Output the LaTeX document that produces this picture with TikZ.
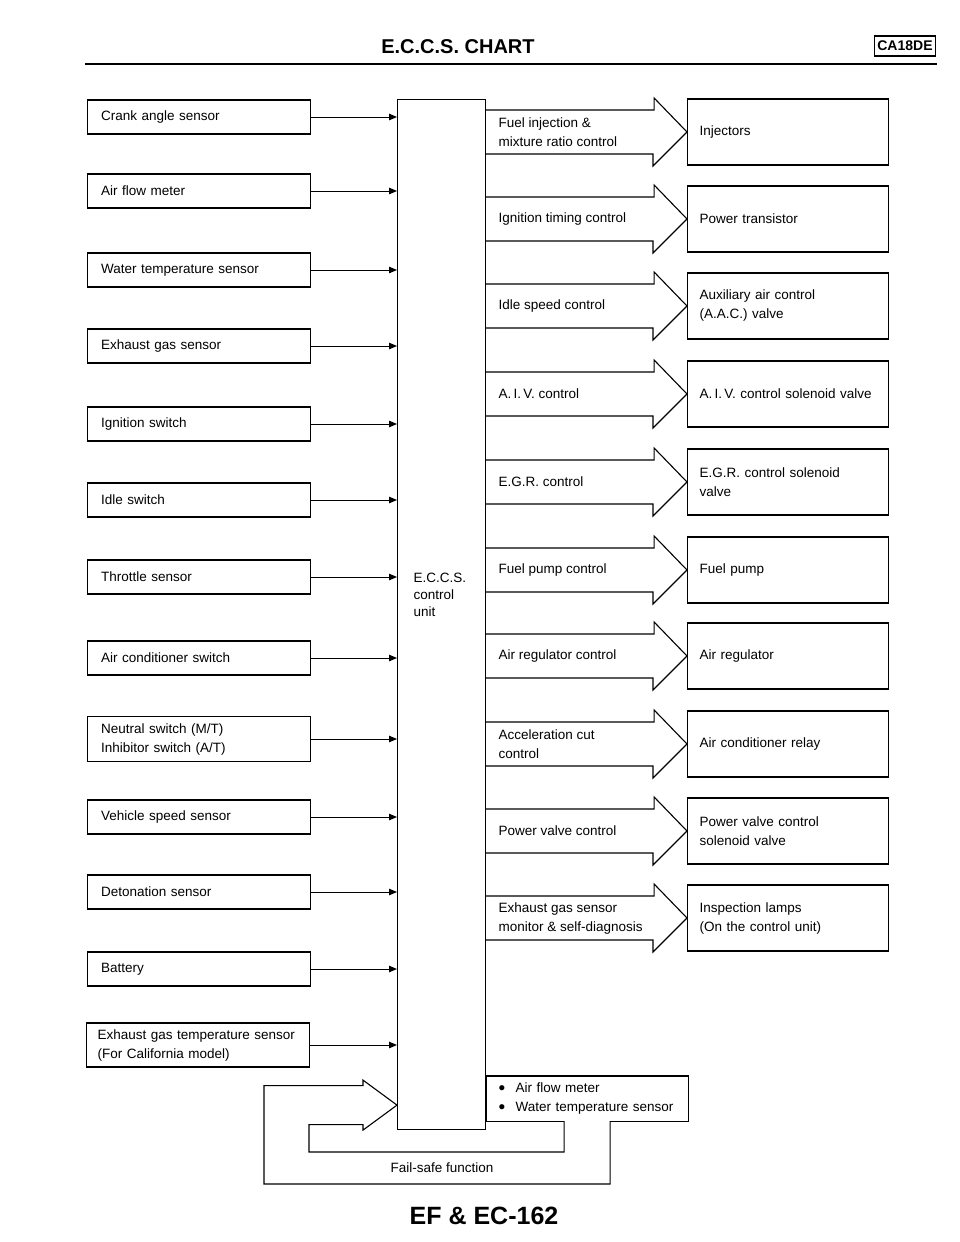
\documentclass[tikz,border=0pt]{standalone}
\usepackage{fontspec}
\setmainfont{Liberation Sans}
\usepackage{tikz}
\usetikzlibrary{arrows.meta, positioning, calc}

\begin{document}
\begin{tikzpicture}[
    x=1pt, y=-1pt,
    line width=1.1pt,
    font=\fontsize{13.5}{19}\selectfont,
    sensor/.style={rectangle, draw, minimum width=223pt, minimum height=34pt,
                   text width=196pt, inner xsep=13.5pt, align=left, anchor=west},
    device/.style={rectangle, draw, minimum width=201pt, minimum height=66pt,
                   text width=177pt, inner xsep=12pt, align=left, anchor=west},
    unit/.style={rectangle, draw, minimum width=88pt, minimum height=1030pt,
                 anchor=north west},
    ctrl/.style={anchor=west, align=left, inner sep=0pt},
    inarr/.style={-{Triangle[length=8pt, width=6.5pt]}, line width=1pt},
    fat/.style={line width=1.1pt, line join=miter}
  ]
  \useasboundingbox (0,0) rectangle (960,1242);

  % header
  \node[font=\fontsize{20}{24}\selectfont\bfseries] (title) at (458,47) {E.C.C.S. CHART};
  \node[draw, line width=1.4pt, inner xsep=3pt, inner ysep=5pt,
        font=\fontsize{14}{16}\selectfont\bfseries] (engine) at (905,46) {CA18DE};
  \draw[line width=2.6pt] (85,64) -- (937,64);

  % control unit
  \node[unit] (ecu) at (397,99) {};
  \node[ctrl, font=\fontsize{13.5}{17}\selectfont] (ecu-lbl) at (413,595) {E.C.C.S.\\control\\unit};

  % inputs
  \node[sensor] (crank) at (87,117) {Crank angle sensor};
  \node[sensor] (afm) at (87,191) {Air flow meter};
  \node[sensor] (water) at (87,270) {Water temperature sensor};
  \node[sensor] (exh) at (87,346) {Exhaust gas sensor};
  \node[sensor] (ign) at (87,424) {Ignition switch};
  \node[sensor] (idle) at (87,500) {Idle switch};
  \node[sensor] (thr) at (87,577) {Throttle sensor};
  \node[sensor] (acsw) at (87,658) {Air conditioner switch};
  \node[sensor, minimum height=45pt] (neutral) at (87,739) {Neutral switch (M/T)\\Inhibitor switch (A/T)};
  \node[sensor] (vss) at (87,817) {Vehicle speed sensor};
  \node[sensor] (deton) at (87,892) {Detonation sensor};
  \node[sensor] (batt) at (87,969) {Battery};
  \node[sensor, minimum height=44pt, inner xsep=11pt, text width=201pt] (exhtemp) at (86,1045)
       {Exhaust~gas~temperature~sensor\\(For California model)};

  \draw[inarr] (crank.east) -- (crank.east -| ecu.west);
  \draw[inarr] (afm.east) -- (afm.east -| ecu.west);
  \draw[inarr] (water.east) -- (water.east -| ecu.west);
  \draw[inarr] (exh.east) -- (exh.east -| ecu.west);
  \draw[inarr] (ign.east) -- (ign.east -| ecu.west);
  \draw[inarr] (idle.east) -- (idle.east -| ecu.west);
  \draw[inarr] (thr.east) -- (thr.east -| ecu.west);
  \draw[inarr] (acsw.east) -- (acsw.east -| ecu.west);
  \draw[inarr] (neutral.east) -- (neutral.east -| ecu.west);
  \draw[inarr] (vss.east) -- (vss.east -| ecu.west);
  \draw[inarr] (deton.east) -- (deton.east -| ecu.west);
  \draw[inarr] (batt.east) -- (batt.east -| ecu.west);
  \draw[inarr] (exhtemp.east) -- (exhtemp.east -| ecu.west);

  % outputs
  \node[device] (inj) at (687,132) {Injectors};
  \node[device] (ptr) at (687,219) {Power transistor};
  \node[device] (aac) at (687,306) {Auxiliary air control\\(A.A.C.) valve};
  \node[device] (aiv) at (687,394) {A.\,I.\,V.~control~solenoid~valve};
  \node[device] (egr) at (687,482) {E.G.R. control solenoid\\valve};
  \node[device] (fpump) at (687,570) {Fuel pump};
  \node[device] (areg) at (687,656) {Air regulator};
  \node[device] (acrly) at (687,744) {Air conditioner relay};
  \node[device] (pvalve) at (687,831) {Power valve control\\solenoid valve};
  \node[device] (lamps) at (687,918) {Inspection lamps\\(On the control unit)};

  \draw[fat] (ecu.east |- inj.west) ++(0,-22) -- ++(168,0) -- ++(0,-12) -- (inj.west) -- ++(-34,34) -- ++(0,-12) -- ++(-168,0);
  \node[ctrl] (inj-c) at ($(ecu.east |- inj.west)+(12,0)$) {Fuel injection \&\\mixture ratio control};
  \draw[fat] (ecu.east |- ptr.west) ++(0,-22) -- ++(168,0) -- ++(0,-12) -- (ptr.west) -- ++(-34,34) -- ++(0,-12) -- ++(-168,0);
  \node[ctrl] (ptr-c) at ($(ecu.east |- ptr.west)+(12,0)$) {Ignition timing control};
  \draw[fat] (ecu.east |- aac.west) ++(0,-22) -- ++(168,0) -- ++(0,-12) -- (aac.west) -- ++(-34,34) -- ++(0,-12) -- ++(-168,0);
  \node[ctrl] (aac-c) at ($(ecu.east |- aac.west)+(12,0)$) {Idle speed control};
  \draw[fat] (ecu.east |- aiv.west) ++(0,-22) -- ++(168,0) -- ++(0,-12) -- (aiv.west) -- ++(-34,34) -- ++(0,-12) -- ++(-168,0);
  \node[ctrl] (aiv-c) at ($(ecu.east |- aiv.west)+(12,0)$) {A.\,I.\,V. control};
  \draw[fat] (ecu.east |- egr.west) ++(0,-22) -- ++(168,0) -- ++(0,-12) -- (egr.west) -- ++(-34,34) -- ++(0,-12) -- ++(-168,0);
  \node[ctrl] (egr-c) at ($(ecu.east |- egr.west)+(12,0)$) {E.G.R. control};
  \draw[fat] (ecu.east |- fpump.west) ++(0,-22) -- ++(168,0) -- ++(0,-12) -- (fpump.west) -- ++(-34,34) -- ++(0,-12) -- ++(-168,0);
  \node[ctrl] (fpump-c) at ($(ecu.east |- fpump.west)+(12,0)$) {Fuel pump control};
  \draw[fat] (ecu.east |- areg.west) ++(0,-22) -- ++(168,0) -- ++(0,-12) -- (areg.west) -- ++(-34,34) -- ++(0,-12) -- ++(-168,0);
  \node[ctrl] (areg-c) at ($(ecu.east |- areg.west)+(12,0)$) {Air regulator control};
  \draw[fat] (ecu.east |- acrly.west) ++(0,-22) -- ++(168,0) -- ++(0,-12) -- (acrly.west) -- ++(-34,34) -- ++(0,-12) -- ++(-168,0);
  \node[ctrl] (acrly-c) at ($(ecu.east |- acrly.west)+(12,0)$) {Acceleration cut\\control};
  \draw[fat] (ecu.east |- pvalve.west) ++(0,-22) -- ++(168,0) -- ++(0,-12) -- (pvalve.west) -- ++(-34,34) -- ++(0,-12) -- ++(-168,0);
  \node[ctrl] (pvalve-c) at ($(ecu.east |- pvalve.west)+(12,0)$) {Power valve control};
  \draw[fat] (ecu.east |- lamps.west) ++(0,-22) -- ++(168,0) -- ++(0,-12) -- (lamps.west) -- ++(-34,34) -- ++(0,-12) -- ++(-168,0);
  \node[ctrl] (lamps-c) at ($(ecu.east |- lamps.west)+(12,0)$) {Exhaust gas sensor\\monitor \& self-diagnosis};

  % fail-safe
  \node[rectangle, minimum width=201pt, minimum height=44pt, text width=177pt,
        inner xsep=12pt, align=left, anchor=north west] (info) at (ecu.east |- 0,1076)
       {\makebox[17pt][l]{\raisebox{-1.8pt}{\fontsize{19}{19}\selectfont\textbullet}}Air flow meter\\%
        \makebox[17pt][l]{\raisebox{-1.8pt}{\fontsize{19}{19}\selectfont\textbullet}}Water temperature sensor};
  \coordinate (gapL) at ($(info.south west)+(78,0)$);
  \coordinate (gapR) at ($(info.south west)+(124,0)$);
  \coordinate (fs-tip) at ($(ecu.south west)+(0,-25)$);
  \draw[fat] (gapL) -- (info.south west) -- (info.north west) -- (info.north east)
             -- (info.south east) -- (gapR);
  \draw[fat] (gapR) |- (264,1184) |- ($(fs-tip)+(-34,-19.5)$) -- ++(0,-5.5) -- (fs-tip)
             -- ++(-34,25) -- ++(0,-5.5) -| (309,1152) -| (gapL);
  \node (fsf) at (442,1168) {Fail-safe function};

  % footer
  \node[font=\fontsize{25}{28}\selectfont\bfseries] (page) at (484,1216) {EF \& EC-162};

\end{tikzpicture}
\end{document}
